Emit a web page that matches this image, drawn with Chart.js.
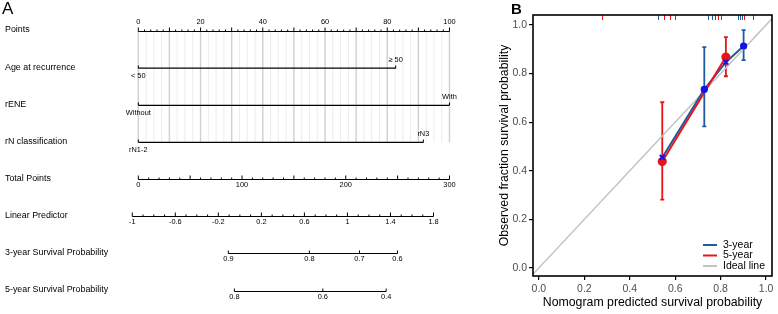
<!DOCTYPE html>
<html>
<head>
<meta charset="utf-8">
<script src="https://cdn.jsdelivr.net/npm/chart.js@4/dist/chart.umd.min.js"></script>
<style>
    html, body { margin: 0; padding: 0; background: #fff; }
    #wrap { position: relative; width: 778px; height: 314px; overflow: hidden; }
    #nomogram { position: absolute; left: 0; top: 0; }
    #calibration { position: absolute; left: 490px; top: 0; }
    .tag { position: absolute; font-family: "Liberation Sans", Arial, sans-serif; color: #000; line-height: 1; }
</style>
</head>
<body>
<div id="wrap">
    <canvas id="nomogram" width="500" height="314"></canvas>
    <canvas id="calibration" width="288" height="314"></canvas>
    <div class="tag" style="left:2px;top:0px;font-size:17px;">A</div>
    <div class="tag" style="left:511px;top:1px;font-size:15px;font-weight:bold;">B</div>
</div>
<script>
(function() {
    'use strict';

    const FONT = '"Liberation Sans", Arial, sans-serif';

    // ---- Panel A data (nomogram) ----
    const rowLabels = [
        'Points', 'Age at recurrence', 'rENE', 'rN classification',
        'Total Points', 'Linear Predictor',
        '3-year Survival Probability', '5-year Survival Probability'
    ];
    const pointLabels = [0, 20, 40, 60, 80, 100];
    const ageLevels = ['< 50', '\u2265 50'];
    const agePoints = [0, 82.7];
    const reneLevels = ['Without', 'With'];
    const renePoints = [0, 100];
    const rnLevels = ['rN1-2', 'rN3'];
    const rnPoints = [0, 91.6];
    const totalPointsMax = 300;
    const totalPointLabels = [0, 100, 200, 300];
    const lpLabels = [-1, -0.6, -0.2, 0.2, 0.6, 1, 1.4, 1.8];
    const lpIntercept = -0.944;
    const lpPerTotalPoint = 0.009642;
    const surv3Labels = ['0.9', '0.8', '0.7', '0.6'];
    const surv3AtLP = [-0.107, 0.646, 1.112, 1.465];
    const surv5Labels = ['0.8', '0.6', '0.4'];
    const surv5AtLP = [-0.051, 0.771, 1.360];

    // ---- Panel B data (calibration) ----
    const threeYearX = [0.543, 0.728, 0.823, 0.901];
    const threeYearY = [0.455, 0.735, 0.847, 0.913];
    const threeYearLow = [null, 0.583, null, 0.855];
    const threeYearHigh = [null, 0.909, null, 0.979];
    const fiveYearX = [0.543, 0.823];
    const fiveYearY = [0.438, 0.868];
    const fiveYearLow = [0.281, 0.789];
    const fiveYearHigh = [0.682, 0.950];
    const rugThreeYear = [0.526, 0.746, 0.763, 0.879, 0.888, 0.897, 0.944];
    const rugFiveYear = [0.280, 0.552, 0.578, 0.603, 0.776, 0.790, 0.804, 0.905];
    const axisTicks = [0, 0.2, 0.4, 0.6, 0.8, 1.0];

    const BLUE_LINE = '#1f5c9e';
    const BLUE_MARK = '#1414e6';
    const RED = '#e8141c';
    const GREY = '#c2c2c2';

    // converters from each nomogram scale to the Points scale
    const fromTotal = tp => tp * 100 / totalPointsMax;
    const fromLP = lp => fromTotal((lp - lpIntercept) / lpPerTotalPoint);

    function crisp(v) {
        return Math.round(v - 0.5) + 0.5;
    }

    /**
     * Horizontal axis with upward ticks and labels above or below
     */
    function drawAxis(ctx, y, ticks, labels, side) {
        const yy = crisp(y);
        const xs = ticks.map(t => t.px);
        ctx.beginPath();
        ctx.moveTo(Math.min(...xs), yy);
        ctx.lineTo(Math.max(...xs), yy);
        ticks.forEach(t => {
            ctx.moveTo(t.px, yy);
            ctx.lineTo(t.px, yy - t.len);
        });
        ctx.stroke();
        ctx.textAlign = 'center';
        ctx.textBaseline = side === 'above' ? 'bottom' : 'top';
        labels.forEach(l => {
            ctx.fillText(l.text, l.px, side === 'above' ? yy - 6 : yy + 2);
        });
    }

    const nomogramAxes = {
        id: 'nomogramAxes',
        beforeDatasetsDraw(chart) {
            const { ctx, scales: { x, y } } = chart;
            const top = crisp(y.getPixelForValue(0));
            const bottom = crisp(y.getPixelForValue(3));
            ctx.save();
            for (let i = 0; i <= 40; i++) {
                const p = i * 2.5;
                ctx.strokeStyle = i % 4 === 0 ? '#d0d0d0' : '#ececec';
                ctx.lineWidth = i % 4 === 0 ? 1.4 : 1;
                ctx.beginPath();
                ctx.moveTo(x.getPixelForValue(p), top);
                ctx.lineTo(x.getPixelForValue(p), bottom);
                ctx.stroke();
            }
            ctx.restore();
        },
        afterDatasetsDraw(chart) {
            const { ctx, scales: { x, y } } = chart;
            ctx.save();
            ctx.strokeStyle = '#000';
            ctx.fillStyle = '#000';
            ctx.lineWidth = 1;

            // row titles
            ctx.font = '8.9px ' + FONT;
            ctx.textAlign = 'left';
            ctx.textBaseline = 'middle';
            rowLabels.forEach((label, i) => {
                ctx.fillText(label, 5, y.getPixelForValue(i) - 1);
            });

            ctx.font = '7.4px ' + FONT;

            // Points
            const pTicks = [];
            for (let p = 0; p <= 100; p += 2) {
                pTicks.push({ px: x.getPixelForValue(p), len: p % 10 === 0 ? 4 : 2 });
            }
            drawAxis(ctx, y.getPixelForValue(0), pTicks,
                pointLabels.map(p => ({ px: x.getPixelForValue(p), text: String(p) })), 'above');

            // categorical predictors
            [[agePoints, ageLevels], [renePoints, reneLevels], [rnPoints, rnLevels]].forEach((row, i) => {
                const yy = crisp(y.getPixelForValue(i + 1));
                const [pts, levels] = row;
                ctx.beginPath();
                pts.forEach(p => {
                    ctx.moveTo(x.getPixelForValue(p), yy);
                    ctx.lineTo(x.getPixelForValue(p), yy - 3);
                });
                ctx.stroke();
                ctx.textAlign = 'center';
                ctx.textBaseline = 'bottom';
                ctx.fillText(levels[1], x.getPixelForValue(pts[1]), yy - 5);
                ctx.textBaseline = 'top';
                ctx.fillText(levels[0], x.getPixelForValue(pts[0]), yy + 4);
            });

            // Total Points
            const tTicks = [];
            for (let t = 0; t <= totalPointsMax; t += 10) {
                tTicks.push({ px: x.getPixelForValue(fromTotal(t)), len: t % 50 === 0 ? 4 : 2 });
            }
            drawAxis(ctx, y.getPixelForValue(4), tTicks,
                totalPointLabels.map(t => ({ px: x.getPixelForValue(fromTotal(t)), text: String(t) })), 'below');

            // Linear Predictor
            const lTicks = [];
            for (let i = -10; i <= 18; i++) {
                lTicks.push({ px: x.getPixelForValue(fromLP(i / 10)), len: (i + 10) % 4 === 0 ? 4 : 2 });
            }
            drawAxis(ctx, y.getPixelForValue(5), lTicks,
                lpLabels.map(v => ({ px: x.getPixelForValue(fromLP(v)), text: String(v) })), 'below');

            // survival probabilities
            [[surv3AtLP, surv3Labels], [surv5AtLP, surv5Labels]].forEach((row, i) => {
                const [lps, labels] = row;
                const ticks = lps.map(v => ({ px: x.getPixelForValue(fromLP(v)), len: 3 }));
                drawAxis(ctx, y.getPixelForValue(6 + i), ticks,
                    labels.map((t, j) => ({ px: ticks[j].px, text: t })), 'below');
            });
            ctx.restore();
        }
    };

    const segment = (pts, row) => pts.map(p => ({ x: p, y: row }));

    new Chart(document.getElementById('nomogram'), {
        type: 'scatter',
        data: {
            datasets: [
                { data: segment(agePoints, 1) },
                { data: segment(renePoints, 2) },
                { data: segment(rnPoints, 3) }
            ].map(ds => Object.assign(ds, {
                showLine: true,
                borderColor: '#000',
                borderWidth: 1.2,
                pointRadius: 0
            }))
        },
        options: {
            responsive: false,
            animation: false,
            events: [],
            devicePixelRatio: 1,
            layout: { padding: { left: 138.3, right: 50.5, top: 31, bottom: 23 } },
            plugins: { legend: { display: false }, tooltip: { enabled: false } },
            scales: {
                x: { type: 'linear', min: 0, max: 100, display: false },
                y: { type: 'linear', min: 0, max: 7, reverse: true, display: false }
            }
        },
        plugins: [nomogramAxes]
    });

    // ---- Panel B ----
    const calibrationExtras = {
        id: 'calibrationExtras',
        beforeDatasetsDraw(chart) {
            const { ctx, scales: { x, y } } = chart;
            ctx.save();
            ctx.lineWidth = 1.8;
            const bars = (xs, lo, hi, color) => {
                ctx.strokeStyle = color;
                xs.forEach((v, i) => {
                    if (lo[i] == null) return;
                    const px = x.getPixelForValue(v);
                    const y0 = y.getPixelForValue(lo[i]);
                    const y1 = y.getPixelForValue(hi[i]);
                    ctx.beginPath();
                    ctx.moveTo(px, y0);
                    ctx.lineTo(px, y1);
                    ctx.moveTo(px - 2, y0);
                    ctx.lineTo(px + 2, y0);
                    ctx.moveTo(px - 2, y1);
                    ctx.lineTo(px + 2, y1);
                    ctx.stroke();
                });
            };
            bars(threeYearX, threeYearLow, threeYearHigh, BLUE_LINE);
            bars(fiveYearX, fiveYearLow, fiveYearHigh, RED);
            ctx.restore();
        },
        afterDraw(chart) {
            const { ctx, chartArea: a, scales: { x } } = chart;
            ctx.save();
            // rug along the top
            ctx.lineWidth = 1;
            [[rugThreeYear, BLUE_LINE], [rugFiveYear, RED]].forEach(([vals, color]) => {
                ctx.strokeStyle = color;
                vals.forEach(v => {
                    const px = crisp(x.getPixelForValue(v));
                    ctx.beginPath();
                    ctx.moveTo(px, a.top);
                    ctx.lineTo(px, a.top + 5);
                    ctx.stroke();
                });
            });
            // frame
            ctx.strokeStyle = '#000';
            ctx.lineWidth = 1.6;
            ctx.strokeRect(a.left, a.top, a.right - a.left, a.bottom - a.top);
            // legend
            const entries = [['3-year', BLUE_LINE], ['5-year', RED], ['Ideal line', GREY]];
            ctx.font = '10.5px ' + FONT;
            ctx.textAlign = 'left';
            ctx.textBaseline = 'middle';
            entries.forEach(([label, color], i) => {
                const yy = a.bottom - 31 + i * 10.5;
                ctx.strokeStyle = color;
                ctx.lineWidth = 2;
                ctx.beginPath();
                ctx.moveTo(a.right - 69, yy);
                ctx.lineTo(a.right - 55, yy);
                ctx.stroke();
                ctx.fillStyle = '#000';
                ctx.fillText(label, a.right - 49, yy);
            });
            ctx.restore();
        }
    };

    const toPoints = (xs, ys) => xs.map((v, i) => ({ x: v, y: ys[i] }));

    const axisOptions = (min, max, title, isY) => ({
        type: 'linear',
        min: min,
        max: max,
        afterBuildTicks: scale => { scale.ticks = axisTicks.map(v => ({ value: v })); },
        afterFit: scale => {
            if (isY) scale.width = 43; else scale.height = 38;
        },
        ticks: {
            callback: v => v.toFixed(1),
            font: { family: FONT, size: 10.5 },
            color: '#4d4d4d',
            padding: isY ? 2 : 3
        },
        grid: { drawOnChartArea: false, drawTicks: true, tickLength: 4, color: '#000', lineWidth: 1.2 },
        border: { display: false },
        title: {
            display: true,
            text: title,
            color: '#000',
            font: { family: FONT, size: 12.3 },
            padding: isY ? { top: 7 } : { bottom: 4 }
        }
    });

    new Chart(document.getElementById('calibration'), {
        type: 'scatter',
        data: {
            datasets: [
                {
                    label: '3-year bias-corrected',
                    data: toPoints(threeYearX, threeYearY),
                    pointStyle: 'crossRot',
                    pointRadius: 3.5,
                    borderColor: BLUE_MARK,
                    borderWidth: 2,
                    order: 0
                },
                {
                    label: '3-year observed',
                    data: toPoints(threeYearX, threeYearY),
                    pointRadius: [0, 3.6, 0, 3.6],
                    backgroundColor: BLUE_MARK,
                    borderColor: BLUE_MARK,
                    borderWidth: 0,
                    order: 1
                },
                {
                    label: '5-year',
                    data: toPoints(fiveYearX, fiveYearY),
                    showLine: true,
                    borderColor: RED,
                    backgroundColor: RED,
                    borderWidth: 2,
                    pointRadius: 3.6,
                    order: 2
                },
                {
                    label: '3-year',
                    data: toPoints(threeYearX, threeYearY),
                    showLine: true,
                    borderColor: BLUE_LINE,
                    borderWidth: 2,
                    pointRadius: 0,
                    order: 3
                },
                {
                    label: 'Ideal line',
                    data: [{ x: -0.1, y: -0.1 }, { x: 1.1, y: 1.1 }],
                    showLine: true,
                    borderColor: GREY,
                    borderWidth: 1.4,
                    pointRadius: 0,
                    order: 4
                }
            ]
        },
        options: {
            responsive: false,
            animation: false,
            events: [],
            devicePixelRatio: 1,
            layout: { padding: { left: 0, right: 1, top: 15, bottom: 0 } },
            plugins: { legend: { display: false }, tooltip: { enabled: false } },
            scales: {
                x: axisOptions(-0.026, 1.026, 'Nomogram predicted survival probability', false),
                y: axisOptions(-0.033, 1.041, 'Observed fraction survival probability', true)
            }
        },
        plugins: [calibrationExtras]
    });
})();
</script>
</body>
</html>
